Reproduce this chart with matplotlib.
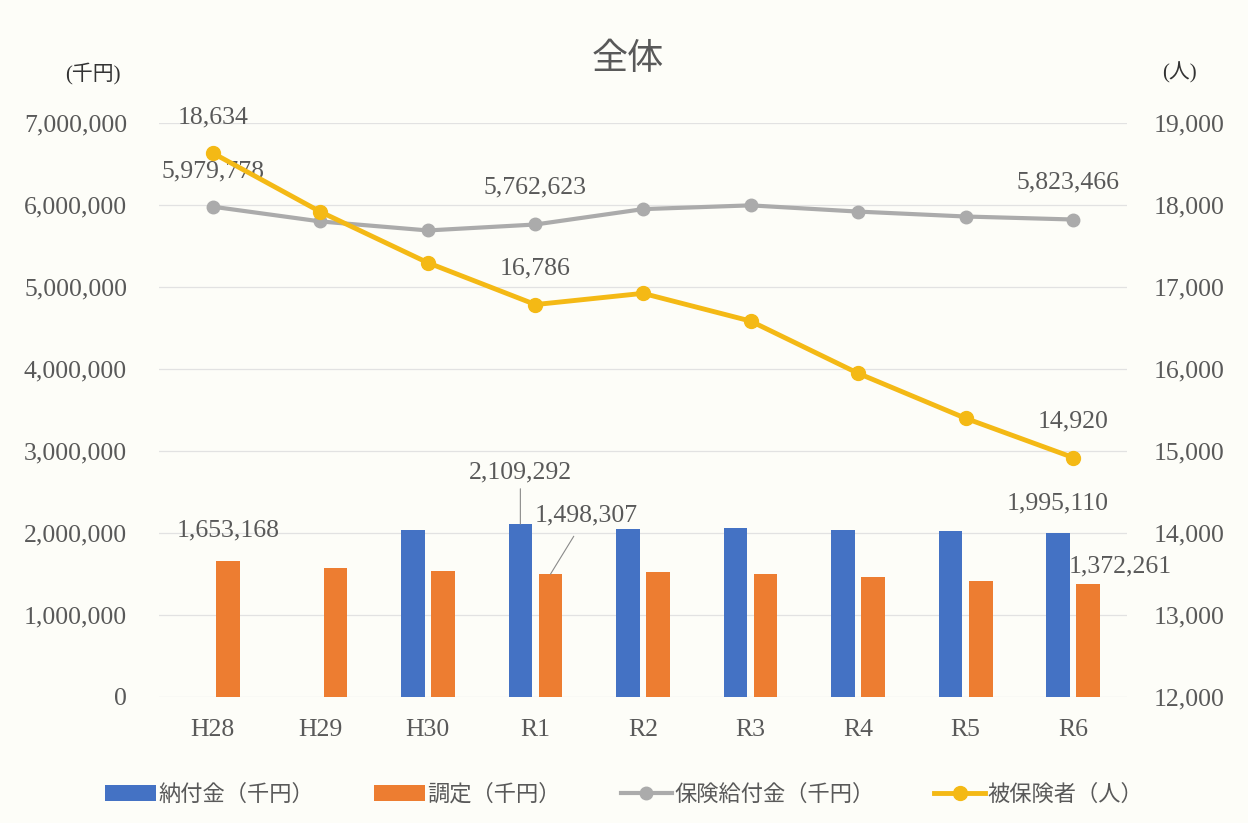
import numpy as np
import matplotlib
matplotlib.use("Agg")
import matplotlib.pyplot as plt
from matplotlib.ticker import FuncFormatter

plt.rcParams['font.family'] = ['Liberation Serif', 'Noto Sans CJK JP', 'DejaVu Sans']

# data
years = ["H28", "H29", "H30", "R1", "R2", "R3", "R4", "R5", "R6"]
nofukin = [np.nan, np.nan, 2035000, 2109292, 2050000, 2060000, 2035000, 2020000, 1995110]   # 納付金（千円）
chotei = [1653168, 1575000, 1538000, 1498307, 1525000, 1500000, 1460000, 1415000, 1372261]  # 調定（千円）
kyufu = [5979778, 5800000, 5690000, 5762623, 5950000, 5996000, 5920000, 5860000, 5823466]   # 保険給付金（千円）
hihoken = [18634, 17918, 17296, 16786, 16923, 16585, 15948, 15399, 14920]                 # 被保険者（人）

c_blue = "#4472C4"
c_orange = "#ED7D31"
c_gray = "#ABABAB"
c_yellow = "#F4B915"
c_text = "#595959"
bg = "#FDFDF8"

fig = plt.figure(figsize=(12.48, 8.23), dpi=100, facecolor=bg)
ax = fig.add_axes([0.1274, 0.1531, 0.7756, 0.6974], facecolor=bg)
ax2 = ax.twinx()

x = np.arange(len(years))
w = 0.22
ax.bar(x - 0.14, nofukin, w, color=c_blue, label="納付金（千円）", zorder=2)
ax.bar(x + 0.14, chotei, w, color=c_orange, label="調定（千円）", zorder=2)
ax.plot(x, kyufu, color=c_gray, lw=3, marker="o", ms=9, label="保険給付金（千円）", zorder=3)
ax2.plot(x, hihoken, color=c_yellow, lw=3.5, marker="o", ms=10, label="被保険者（人）", zorder=4)

ax.set_xlim(-0.5, len(years) - 0.5)
ax.set_ylim(0, 7000000)
ax2.set_ylim(12000, 19000)
ax.set_yticks(np.arange(0, 7000001, 1000000))
ax2.set_yticks(np.arange(12000, 19001, 1000))
fmt = FuncFormatter(lambda v, p: f"{int(v):,}")
ax.yaxis.set_major_formatter(fmt)
ax2.yaxis.set_major_formatter(fmt)
ax.set_xticks(x)
ax.set_xticklabels(years)

for a in (ax, ax2):
    for s in a.spines.values():
        s.set_visible(False)
    a.tick_params(length=0, labelsize=18.5, colors=c_text)
ax.tick_params(axis="y", pad=23)
ax2.tick_params(axis="y", pad=19)
ax.tick_params(axis="x", pad=16)
ax.grid(axis="y", color="#e2e2e2", lw=0.9, zorder=0)
ax.set_axisbelow(True)

fs = 18.5
# labels
ax2.annotate(f"{hihoken[0]:,}", (0, hihoken[0]), xytext=(0, 21), textcoords="offset points",
             ha="center", fontsize=fs, color=c_text)
ax.annotate(f"{kyufu[0]:,}", (0, kyufu[0]), xytext=(0, 21), textcoords="offset points",
            ha="center", fontsize=fs, color=c_text)
ax.annotate(f"{kyufu[3]:,}", (3, kyufu[3]), xytext=(0, 22), textcoords="offset points",
            ha="center", fontsize=fs, color=c_text)
ax2.annotate(f"{hihoken[3]:,}", (3, hihoken[3]), xytext=(0, 22), textcoords="offset points",
             ha="center", fontsize=fs, color=c_text)
ax.annotate(f"{kyufu[8]:,}", (8, kyufu[8]), xytext=(-4, 22), textcoords="offset points",
            ha="center", fontsize=fs, color=c_text)
ax2.annotate(f"{hihoken[8]:,}", (8, hihoken[8]), xytext=(0, 22), textcoords="offset points",
             ha="center", fontsize=fs, color=c_text)

ax.annotate(f"{chotei[0]:,}", (0.14, chotei[0]), xytext=(0, 18), textcoords="offset points",
            ha="center", fontsize=fs, color=c_text)
ax.annotate(f"{nofukin[3]:,}", (3 - 0.14, nofukin[3]), xytext=(0, 33), textcoords="offset points",
            ha="center", fontsize=fs, color=c_text,
            arrowprops=dict(arrowstyle="-", color="#8a8a8a", lw=0.8, shrinkA=2, shrinkB=0))
ax.annotate(f"{chotei[3]:,}", (3 + 0.14, chotei[3]), xytext=(26, 38), textcoords="offset points",
            ha="center", fontsize=fs, color=c_text,
            arrowprops=dict(arrowstyle="-", color="#8a8a8a", lw=0.8, shrinkA=6, shrinkB=0))
ax.annotate(f"{nofukin[8]:,}", (8 - 0.14, nofukin[8]), xytext=(0, 17), textcoords="offset points",
            ha="center", fontsize=fs, color=c_text)
ax.annotate(f"{chotei[8]:,}", (8 + 0.14, chotei[8]), xytext=(23, 9), textcoords="offset points",
            ha="center", fontsize=fs, color=c_text)

fig.text(0.503, 0.927, "全体", ha="center", va="center", fontsize=26, color=c_text)
fig.text(0.0745, 0.911, "(千円)", ha="center", va="center", fontsize=15, color="#333333")
fig.text(0.945, 0.911, "(人)", ha="center", va="center", fontsize=15, color="#333333")

h1, l1 = ax.get_legend_handles_labels()
h2, l2 = ax2.get_legend_handles_labels()
handles = [h1[1], h1[2], h1[0], h2[0]]
labels = [l1[1], l1[2], l1[0], l2[0]]
fig.legend(handles, labels, loc="center", bbox_to_anchor=(0.5, 0.034), ncol=4, frameon=False,
           fontsize=16, labelcolor=c_text, handlelength=2.3, columnspacing=2.7, handletextpad=0.1)

fig.savefig("out.png", dpi=100, facecolor=bg)
